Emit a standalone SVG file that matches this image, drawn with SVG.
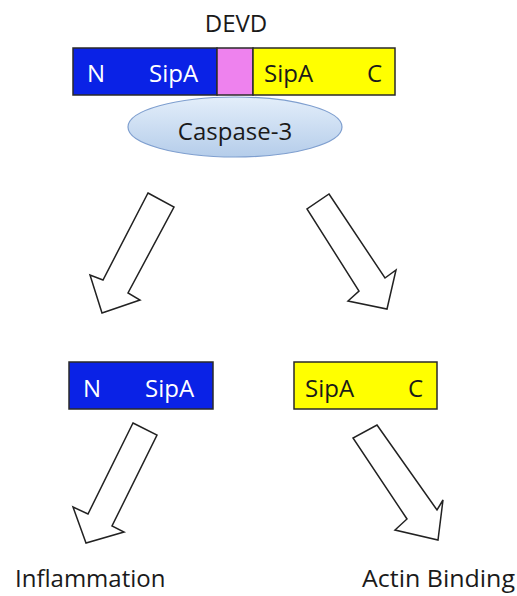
<svg xmlns="http://www.w3.org/2000/svg" width="517" height="596" viewBox="0 0 517 596">
<defs>
<linearGradient id="casp" x1="0" y1="0" x2="0" y2="1">
<stop offset="0" stop-color="#e3eefa"/>
<stop offset="1" stop-color="#b5cdea"/>
</linearGradient>
</defs>
<style>
text{font-family:"Open Sans","Liberation Sans",sans-serif;font-size:24px;fill:#1a1a1a}
.w{fill:#ffffff}
.blue{fill:#0a22e6;stroke:#2a2a2a;stroke-width:1.5}
.yel{fill:#ffff00;stroke:#2a2a2a;stroke-width:1.5}
.pink{fill:#ee82ee;stroke:#2a2a2a;stroke-width:1.5}
.arrow{fill:#ffffff;stroke:#222222;stroke-width:1.5;stroke-linejoin:miter}
</style>
<rect width="517" height="596" fill="#ffffff"/>
<g id="devd-label"><text x="236" y="32" text-anchor="middle">DEVD</text></g>
<g id="full-sipa">
<rect class="blue" x="73" y="48" width="144" height="47"/>
<rect class="pink" x="217" y="48" width="36" height="47"/>
<rect class="yel" x="253" y="48" width="142" height="47"/>
<text class="w" x="87" y="82">N</text>
<text class="w" x="149" y="82">SipA</text>
<text x="264" y="82">SipA</text>
<text x="367" y="82">C</text>
</g>
<g id="caspase3">
<ellipse cx="235" cy="127" rx="107" ry="30" fill="url(#casp)" stroke="#7f9fcf" stroke-width="1.2"/>
<text x="235" y="140" text-anchor="middle">Caspase-3</text>
</g>
<g id="n-sipa">
<rect class="blue" x="69" y="362" width="144" height="47"/>
<text class="w" x="83" y="397">N</text>
<text class="w" x="145" y="397">SipA</text>
</g>
<g id="sipa-c">
<rect class="yel" x="294" y="362" width="143" height="47"/>
<text x="305" y="397">SipA</text>
<text x="408" y="397">C</text>
</g>
<g id="inflammation"><text x="15" y="587">Inflammation</text></g>
<g id="actin-binding"><text x="362" y="587" textLength="153" lengthAdjust="spacingAndGlyphs">Actin Binding</text></g>
<g id="connectors">
<polygon class="arrow" points="148,193 174,207 128,293 140,300 102,313 90,275 103,280"/>
<polygon class="arrow" points="329,194 385,278 396,270 387,309 348,301 359,291 307,209"/>
<polygon class="arrow" points="133,423 157,435 112,526 124,532 86,543 73,507 88,514"/>
<polygon class="arrow" points="377,425 437,510 443,500 438,540 395,530 407,519 353,438"/>
</g>
</svg>
